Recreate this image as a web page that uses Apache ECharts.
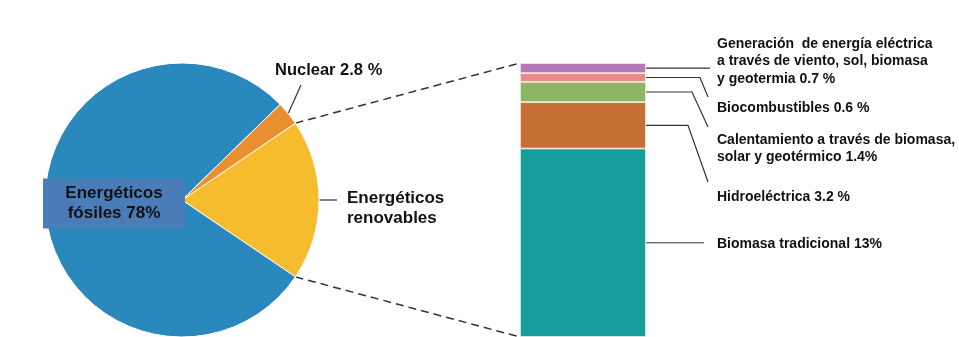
<!DOCTYPE html>
<html>
<head>
<meta charset="utf-8">
<script src="https://cdn.jsdelivr.net/npm/echarts@6/dist/echarts.min.js"></script>
<style>
  html, body { margin: 0; padding: 0; background: #fff; }
  #chart { width: 959px; height: 337px; }
</style>
</head>
<body>
<div id="chart"></div>
<script>
// Share of global final energy consumption (%)
const fossilValue = 78;
const nuclearValue = 2.8;

// Renewable breakdown, stacked from the bottom of the bar upwards
const renewableNames = [
  'Biomasa tradicional',
  'Hidroeléctrica',
  'Calentamiento a través de biomasa, solar y geotérmico',
  'Biocombustibles',
  'Generación de energía eléctrica a través de viento, sol, biomasa y geotermia'
];
const renewableValues = [13, 3.2, 1.4, 0.6, 0.7];
const renewableLabels = [
  'Biomasa tradicional 13%',
  'Hidroeléctrica 3.2 %',
  'Calentamiento a través de biomasa,\nsolar y geotérmico 1.4%',
  'Biocombustibles 0.6 %',
  'Generación  de energía eléctrica\na través de viento, sol, biomasa\ny geotermia 0.7 %'
];

const pieNames = ['Energéticos renovables', 'Energéticos fósiles', 'Nuclear'];
const pieLabels = ['Energéticos\nrenovables', 'Energéticos\nfósiles 78%', 'Nuclear 2.8 %'];

const renewableTotal = renewableValues.reduce((a, b) => a + b, 0);
const pieValues = [renewableTotal, fossilValue, nuclearValue];

// ---- layout & style ----
const FONT = '"Liberation Sans", Arial, Helvetica, sans-serif';
const PIE_CENTER = [182, 200];
const PIE_R = 137;
const pieTotal = pieValues.reduce((a, b) => a + b, 0);
const renewableSweep = renewableTotal / pieTotal * 360;
const START_ANGLE = renewableSweep / 2;   // renewables centred on the horizontal
const pieColors = ['#f5bc2e', '#2b88bd', '#e98f2f'];
const barColors = ['#159e9b', '#c66f34', '#8db564', '#ec8a85', '#b57ab6'];
const GRID = { left: 520, top: 63, width: 126, height: 274 };

// label positions and leader-line bends for the bar segments (same order as values)
const barLabelPos = [
  { y: 244, bend: null, end: [704, null] },
  { y: 197, bend: 688, end: [708, 182] },
  { y: 148.5, bend: 692, end: [708, 127] },
  { y: 108, bend: 700, end: [708, 97] },
  { y: 61.5, bend: null, end: [710, null] }
];
const BAR_LABEL_X = 717;
const LEADER = { stroke: '#333', lineWidth: 1.2 };

const chart = echarts.init(document.getElementById('chart'), null, { renderer: 'canvas' });

const pieData = pieNames.map((name, i) => {
  const item = { name, value: pieValues[i], itemStyle: { color: pieColors[i] } };
  if (i === 1) {
    item.label = {
      position: 'inside',
      backgroundColor: '#4a7cb8',
      width: 142,
      align: 'center',
      padding: [5, 0, 5, 0]
    };
    item.labelLine = { show: false };
  }
  if (i === 2) {
    item.label = { fontSize: 16.5 };
  }
  return item;
});

const barSeries = renewableNames.map((name, i) => ({
  name,
  type: 'bar',
  stack: 'renovables',
  barWidth: '100%',
  data: [renewableValues[i]],
  itemStyle: { color: barColors[i], borderColor: '#f4efe6', borderWidth: 0.8 },
  label: {
    show: true,
    position: 'right',
    formatter: () => renewableLabels[i],
    fontFamily: FONT,
    fontWeight: 'bold',
    fontSize: 14,
    lineHeight: 17.5,
    color: '#111'
  },
  labelLayout: () => ({
    x: BAR_LABEL_X,
    y: barLabelPos[i].y,
    align: 'left',
    verticalAlign: 'middle'
  })
}));

const option = {
  animation: false,
  backgroundColor: '#fff',
  grid: Object.assign({ containLabel: false }, GRID),
  xAxis: { type: 'category', data: [''], show: false },
  yAxis: { type: 'value', min: 0, max: renewableTotal, show: false },
  series: [
    {
      type: 'pie',
      center: PIE_CENTER,
      radius: PIE_R,
      startAngle: START_ANGLE,
      clockwise: true,
      silent: true,
      itemStyle: { borderColor: '#fff', borderWidth: 1 },
      label: {
        show: true,
        formatter: (p) => pieLabels[p.dataIndex],
        fontFamily: FONT,
        fontWeight: 'bold',
        fontSize: 17,
        lineHeight: 20,
        color: '#111'
      },
      labelLine: { show: true, length: 15, length2: 0, lineStyle: { color: '#333', width: 1.2 } },
      labelLayout: (p) => {
        const p0 = p.labelLinePoints ? p.labelLinePoints[0] : null;
        if (p.dataIndex === 1) {
          return { x: 114, y: 203.5, align: 'center', verticalAlign: 'middle' };
        }
        if (p.dataIndex === 2) {
          const out = { x: 275, y: 70, align: 'left', verticalAlign: 'middle' };
          if (p0) out.labelLinePoints = [p0, [301, 85], [301, 85]];
          return out;
        }
        const out = { x: 347, y: 208, align: 'left', verticalAlign: 'middle' };
        if (p0) out.labelLinePoints = [p0, [337, p0[1]], [337, p0[1]]];
        return out;
      },
      data: pieData
    }
  ].concat(barSeries)
};

chart.setOption(option);

// dashed connectors from the renewables slice to the bar
const rad = (d) => d * Math.PI / 180;
const a1 = START_ANGLE;
const a2 = START_ANGLE - renewableSweep;
const pTop = [PIE_CENTER[0] + PIE_R * Math.cos(rad(a1)), PIE_CENTER[1] - PIE_R * Math.sin(rad(a1))];
const pBot = [PIE_CENTER[0] + PIE_R * Math.cos(rad(a2)), PIE_CENTER[1] - PIE_R * Math.sin(rad(a2))];
const barTopY = chart.convertToPixel({ yAxisIndex: 0 }, renewableTotal);
const barBotY = chart.convertToPixel({ yAxisIndex: 0 }, 0);
const barLeftX = GRID.left;
const barRightX = GRID.left + GRID.width;
const dashStyle = { stroke: '#333', lineWidth: 1.5, lineDash: [8, 5] };

const graphics = [
  { type: 'line', silent: true, shape: { x1: pTop[0], y1: pTop[1], x2: barLeftX, y2: barTopY }, style: dashStyle },
  { type: 'line', silent: true, shape: { x1: pBot[0], y1: pBot[1], x2: barLeftX, y2: barBotY }, style: dashStyle }
];

// leader lines from the middle of each bar segment to its label
let cum = 0;
renewableValues.forEach((v, i) => {
  const sy = chart.convertToPixel({ yAxisIndex: 0 }, cum + v / 2);
  cum += v;
  const cfg = barLabelPos[i];
  const end = [cfg.end[0], cfg.end[1] == null ? sy : cfg.end[1]];
  const pts = [[barRightX, sy]];
  if (cfg.bend != null) pts.push([cfg.bend, sy]);
  pts.push(end);
  graphics.push({ type: 'polyline', silent: true, shape: { points: pts }, style: Object.assign({ fill: null }, LEADER) });
});

chart.setOption({ graphic: graphics });
</script>
</body>
</html>
